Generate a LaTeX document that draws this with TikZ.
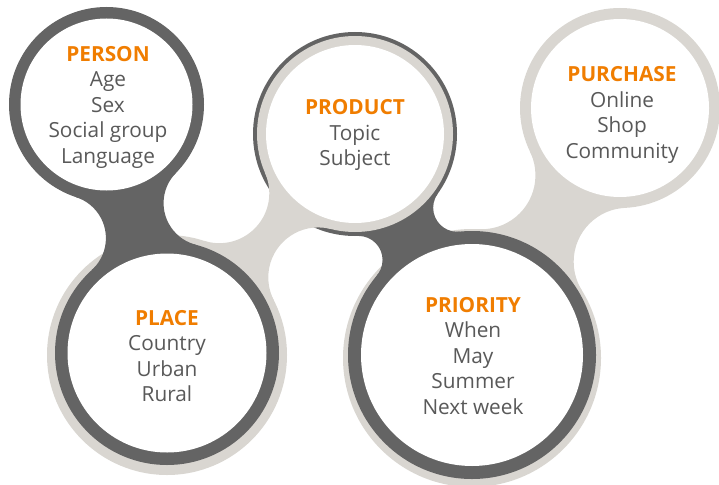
\documentclass[tikz,border=0pt]{standalone}
\usepackage{fontspec}
\setmainfont{Open Sans}
\usepackage{xcolor}
\usetikzlibrary{intersections}
\definecolor{ringDark}{HTML}{646464}
\definecolor{ringLight}{HTML}{D9D6D1}
\definecolor{headOrange}{HTML}{F07D00}
\definecolor{bodyGray}{HTML}{595959}

\tikzset{
  circletext/.style={align=center, text=bodyGray, inner sep=0pt,
    font=\fontsize{20.8}{25.5}\selectfont}
}
\newcommand{\headline}[1]{\textcolor{headOrange}{\bfseries #1}}

% smooth neck between two discs: centre, radius, centre, radius, cut radius, colour
\newcommand{\discbridge}[6]{%
  \path[name path=neckA] (#1) circle[radius=#2pt+#5pt];
  \path[name path=neckB] (#3) circle[radius=#4pt+#5pt];
  \path[name intersections={of=neckA and neckB, by={cutA,cutB}}];
  \begin{scope}[even odd rule]
    \clip (#1) -- (cutA) -- (#3) -- (cutB) -- cycle;
    \clip (-100,-100) rectangle (900,700)
      (cutA) circle[radius=#5pt] (cutB) circle[radius=#5pt];
    \fill[#6] (#1) -- (cutA) -- (#3) -- (cutB) -- cycle;
  \end{scope}}

\begin{document}
\begin{tikzpicture}[x=1pt, y=-1pt]
\useasboundingbox (0,0) rectangle (719,484);
\coordinate (person) at (106.5,104.5);
\coordinate (product) at (355,134);
\coordinate (purchase) at (620,108);
\coordinate (place) at (167,353);
\coordinate (placeL) at (167,355);
\coordinate (priority) at (472,355);
\coordinate (priorityL) at (472,358);

% light chain, back part
\fill[ringLight] (placeL) circle[radius=120pt];
\fill[ringLight] (priorityL) circle[radius=129pt];
\discbridge{priorityL}{129}{purchase}{100}{54}{ringLight}
\fill[ringLight] (purchase) circle[radius=100pt];

% dark chain under product
\fill[ringDark] (product) circle[radius=102pt];
\discbridge{product}{102}{priority}{124}{24}{ringDark}
\fill[ringDark] (priority) circle[radius=124pt];

% light chain over product
\discbridge{placeL}{120}{product}{98}{50}{ringLight}
\fill[ringLight] (product) circle[radius=98pt];

% dark chain person -- place
\fill[ringDark] (person) circle[radius=97.5pt];
\discbridge{person}{97.5}{place}{112}{43}{ringDark}
\fill[ringDark] (place) circle[radius=112pt];

% insides
\fill[white] (person) circle[radius=86pt];
\fill[white] (product) circle[radius=89pt];
\fill[white] (purchase) circle[radius=89pt];
\fill[white] (place) circle[radius=99.5pt];
\fill[white] (priority) circle[radius=111pt];

\node[circletext] (personTxt) at (108,107) {\headline{PERSON}\\Age\\Sex\\Social group\\Language};
\node[circletext] (productTxt) at (355,135) {\headline{PRODUCT}\\Topic\\Subject};
\node[circletext] (purchaseTxt) at (622,115) {\headline{PURCHASE}\\Online\\Shop\\Community};
\node[circletext] (placeTxt) at (167,356) {\headline{PLACE}\\Country\\Urban\\Rural};
\node[circletext] (priorityTxt) at (473,356) {\headline{PRIORITY}\\When\\May\\Summer\\Next week};
\end{tikzpicture}
\end{document}
